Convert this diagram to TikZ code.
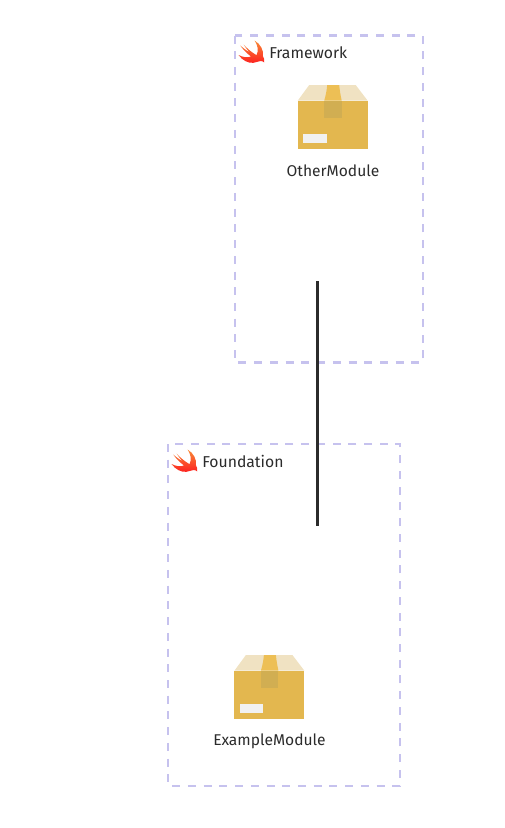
\documentclass[tikz,border=0pt]{standalone}
\usepackage{fontspec}
\setmainfont{Fira Sans}
\definecolor{boxdash}{HTML}{C6C2EE}
\definecolor{ink}{HTML}{2B2B2B}
\definecolor{cardboard}{HTML}{E3B74F}
\definecolor{lid}{HTML}{F0E2C2}
\definecolor{tapetop}{HTML}{EDBF55}
\definecolor{tapefront}{HTML}{D1AE52}
\definecolor{sticker}{HTML}{F1F1F1}
\definecolor{swiftA}{HTML}{F88A36}
\definecolor{swiftB}{HTML}{FD2020}
\tikzset{
  x=0.75pt,y=-0.75pt,
  groupbox/.style={draw=boxdash,line width=1.6pt,dash pattern=on 6pt off 5.8pt},
  grouplabel/.style={text=ink,font=\fontsize{11.8pt}{14pt}\selectfont,anchor=west,inner sep=0pt},
  modlabel/.style={text=ink,font=\fontsize{11.7pt}{14pt}\selectfont,anchor=center,inner sep=0pt},
  link/.style={draw=ink,line width=2.25pt},
  pics/package/.style={code={
    \fill[cardboard] (0,0) rectangle (70,48.6);
    \fill[lid] (0,0) -- (11.5,-15.7) -- (58,-15.7) -- (70,0) -- cycle;
    \fill[tapetop] (26.5,0) .. controls (28,-5) and (29,-10) .. (29.5,-15.7) -- (41.5,-15.7) .. controls (42,-10) and (43,-5) .. (44,0) -- cycle;
    \fill[tapefront] (26.5,0) rectangle (44,17);
    \fill[sticker] (5.3,33.3) rectangle (29,42.3);
  }},
  pics/swiftlogo/.style={code={
    \shade[top color=swiftA,bottom color=swiftB]
      (0,14.5) .. controls (4,20) and (10,23) .. (15,22.3)
      .. controls (18,22) and (20,20.5) .. (22,20.5)
      .. controls (23.5,20.5) and (25,21) .. (25.7,22)
      .. controls (26.2,19.5) and (25.5,17) .. (24.3,15.5)
      .. controls (25.5,10) and (22,3.5) .. (16,0)
      .. controls (19,4) and (20.5,10) .. (18,14.7)
      .. controls (13.5,12) and (8.5,8) .. (5,4)
      .. controls (7,7) and (9,9.5) .. (11,11.8)
      .. controls (8,10) and (4.5,7.5) .. (1.7,5)
      .. controls (4.5,9) and (8.5,13) .. (12.5,16)
      .. controls (8.5,17.5) and (4,16.5) .. (0,14.5) -- cycle;
  }}
}
\begin{document}
\begin{tikzpicture}
\useasboundingbox (0,0) rectangle (505,828);
\draw[groupbox] (235,35.5) rectangle (423,362.5);
\draw[groupbox] (168,444) rectangle (400,786);
\coordinate (linkTop) at (317.5,281);
\coordinate (linkBottom) at (317.5,526);
\draw[link] (linkTop) -- (linkBottom);
\pic at (238.5,40.5) {swiftlogo};
\pic at (171.5,449.5) {swiftlogo};
\node[grouplabel] (frameworkLabel) at (269,52.5) {Framework};
\node[grouplabel] (foundationLabel) at (202,461.5) {Foundation};
\pic at (297.7,100.7) {package};
\pic at (234.4,670.7) {package};
\node[modlabel] (otherModule) at (333,171) {OtherModule};
\node[modlabel] (exampleModule) at (269.5,741) {ExampleModule};
\end{tikzpicture}
\end{document}
